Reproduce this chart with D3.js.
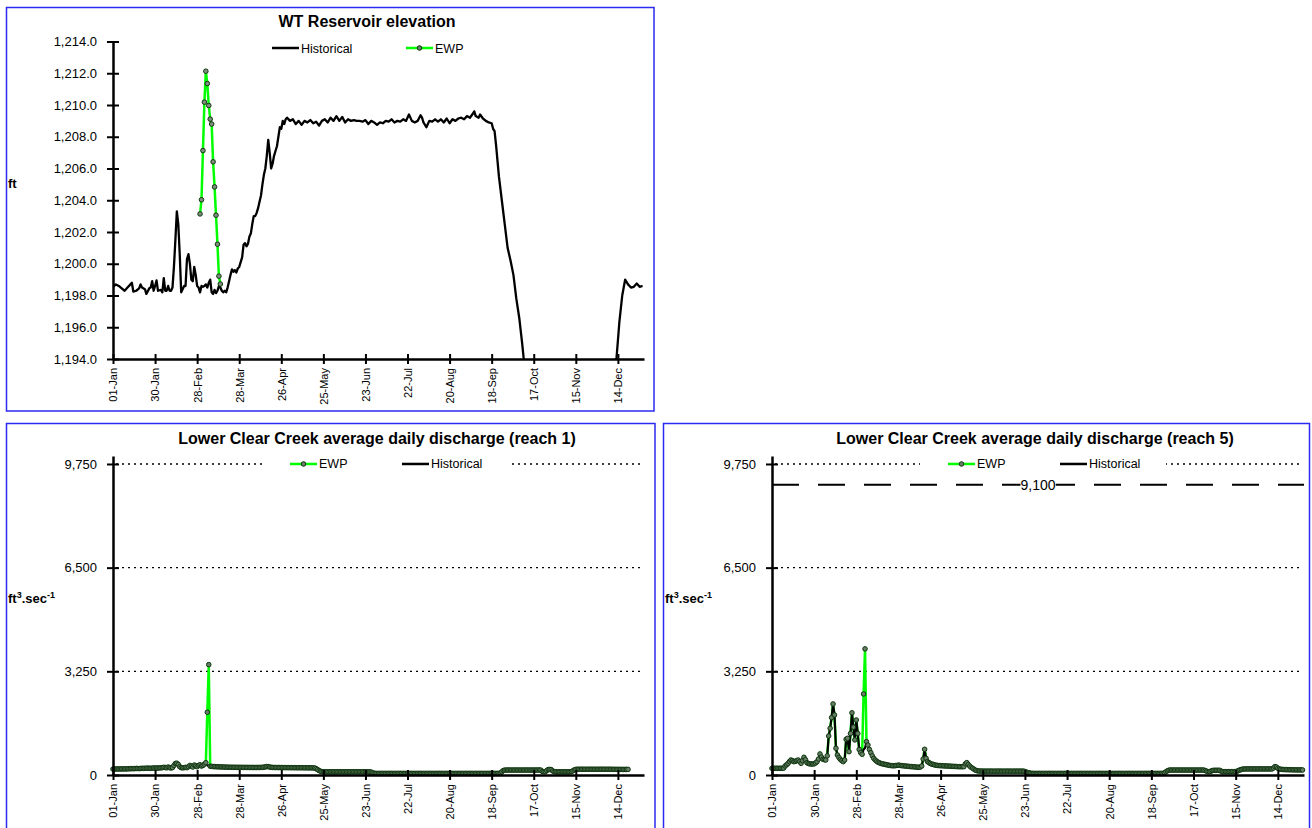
<!DOCTYPE html>
<html><head><meta charset="utf-8">
<script src="https://cdn.jsdelivr.net/npm/d3@7"></script>
<style>body{margin:0;background:#fff;} svg text{font-family:"Liberation Sans",Arial,sans-serif;}</style>
</head><body><svg id="c" width="1312" height="828"></svg>
<script>
// ---------------- DATA ----------------
const tickLabels = ["01-Jan","30-Jan","28-Feb","28-Mar","26-Apr","25-May","23-Jun","22-Jul","20-Aug","18-Sep","17-Oct","15-Nov","14-Dec"];
const tickDays = [0,29,58,87,116,145,174,203,232,261,290,319,348];
const elevTicks = [1194,1196,1198,1200,1202,1204,1206,1208,1210,1212,1214];
const flowTicks = [0,3250,6500,9750];

// WT reservoir elevation, historical [day, ft]
const historicalElevation = [[0,1198.55],[2,1198.7],[4,1198.6],[6,1198.45],[8,1198.3],[10,1198.5],[12,1198.7],[13,1198.8],[14,1198.25],[16,1198.3],[18,1198.45],[19,1198.7],[20,1198.5],[22,1198.4],[23,1198.1],[25,1198.45],[26,1198.5],[27,1198.9],[28,1198.3],[29,1198.6],[30,1198.95],[31,1198.3],[33,1198.35],[34,1198.2],[35,1199.1],[36,1198.3],[37,1198.3],[38,1198.6],[39,1198.3],[40,1198.3],[41,1198.5],[42,1199.8],[43,1201.5],[44,1203.3],[45,1202.5],[46,1200.6],[47,1198.2],[48,1198.4],[49,1198.6],[50,1198.6],[51,1200.3],[52,1200.6],[53,1200.0],[54,1199.0],[55,1198.9],[56,1199.8],[57,1199.3],[58,1198.6],[59,1198.5],[60,1198.2],[61,1198.6],[62,1198.55],[63,1198.6],[64,1198.7],[65,1198.5],[66,1198.8],[67,1199.0],[68,1198.2],[69,1198.1],[70,1198.35],[71,1198.15],[72,1198.3],[73,1198.6],[74,1198.5],[75,1198.3],[76,1198.2],[77,1198.3],[78,1198.2],[79,1198.5],[80,1198.9],[81,1199.3],[82,1199.65],[83,1199.5],[84,1199.6],[85,1199.45],[86,1199.7],[87,1199.8],[88,1200.1],[89,1200.4],[90,1201.2],[91,1201.3],[92,1201.1],[93,1201.25],[94,1201.7],[95,1201.9],[96,1202.5],[97,1203.0],[98,1203.0],[99,1203.2],[100,1203.5],[101,1203.9],[102,1204.3],[103,1205.0],[104,1205.6],[105,1206.0],[106,1206.8],[107,1207.8],[108,1207.0],[109,1206.0],[110,1206.3],[111,1206.8],[112,1207.1],[113,1207.4],[114,1208.0],[115,1208.6],[116,1208.5],[117,1209.0],[118,1208.8],[119,1209.1],[120,1209.2],[122,1209.0],[124,1209.1],[126,1208.8],[128,1209.0],[130,1208.75],[132,1209.0],[134,1208.9],[136,1209.05],[138,1208.85],[140,1208.95],[142,1208.7],[144,1209.0],[146,1209.1],[148,1208.9],[150,1209.2],[152,1209.0],[154,1209.3],[156,1209.0],[158,1209.25],[160,1208.9],[162,1209.1],[164,1209.0],[166,1209.05],[168,1209.0],[170,1209.0],[172,1208.95],[174,1209.05],[176,1208.8],[178,1209.0],[180,1208.9],[182,1208.75],[184,1208.9],[186,1208.85],[188,1209.0],[190,1208.95],[192,1209.1],[194,1208.9],[196,1209.0],[198,1208.95],[200,1209.1],[202,1209.0],[204,1209.4],[206,1209.0],[208,1208.9],[210,1209.0],[212,1209.35],[213,1209.2],[214,1208.9],[216,1208.6],[218,1209.0],[220,1208.95],[222,1209.1],[224,1208.95],[226,1209.1],[228,1208.9],[230,1209.15],[232,1208.85],[234,1209.1],[236,1209.0],[238,1209.15],[240,1209.2],[242,1209.1],[244,1209.3],[246,1209.2],[248,1209.45],[249,1209.6],[250,1209.3],[252,1209.2],[253,1209.4],[255,1209.15],[257,1209.0],[259,1208.9],[261,1208.85],[262,1208.5],[263,1208.35],[264,1207.5],[266,1205.5],[268,1204.0],[270,1202.5],[272,1201.0],[274,1200.2],[276,1199.3],[278,1197.8],[280,1196.6],[282,1195.0],[283,1194.1],[285,1193.0],[290,1191.5],[300,1190.5],[320,1190.0],[340,1191.0],[345,1192.8],[347,1194.0],[349,1196.3],[351,1198.0],[353,1199.0],[355,1198.7],[357,1198.5],[359,1198.55],[361,1198.75],[363,1198.55],[365,1198.6]];

// WT reservoir elevation, EWP [day, ft]
const ewpElevation = [[60,1203.14],[61,1204.03],[62,1207.13],[63,1210.18],[64,1212.13],[65,1211.35],[66,1209.97],[67,1209.11],[68,1208.8],[69,1206.42],[70,1204.84],[71,1203.06],[72,1201.23],[73,1199.22],[74,1198.72]];

// Lower Clear Creek reach 1, historical daily discharge (ft3/s), day 0..365
const reach1Historical = [
185,185,188,190,190,188,190,192,190,190, 195,195,198,200,198,200,205,205,200,205,
210,208,210,212,215,212,210,215,218,220, 220,218,222,225,230,240,235,225,250,230,
220,235,300,360,370,330,260,230,225,230, 240,230,260,300,280,250,310,290,260,300,
320,280,300,340,330,300,290,275,270,265, 262,260,258,255,255,252,250,248,246,245,
244,243,242,242,241,240,240,240,239,239, 238,238,238,237,237,236,236,236,235,236,
236,237,238,240,245,255,265,262,250,240, 238,236,235,235,234,234,233,233,232,232,
231,231,230,230,230,229,229,228,228,228, 227,227,226,226,225,225,225,224,222,220,
200,170,140,118,105,102,100,100,100,100, 100,99,100,98,99,100,101,100,99,100,
100,99,98,100,100,99,100,101,100,100, 99,100,100,99,100,100,98,99,90,70,
55,50,50,49,50,51,50,50,49,50, 50,51,50,50,49,50,50,50,51,50,
49,50,50,50,51,50,50,49,50,50, 50,50,51,50,49,50,50,50,50,51,
50,49,50,50,50,51,50,50,49,50, 50,50,51,50,50,49,50,50,50,51,
50,50,49,50,50,50,51,50,50,49, 50,50,50,51,50,50,49,50,50,50,
51,50,50,49,50,50,50,60,100,140, 152,155,155,156,155,154,155,155,156,155,
155,154,155,155,155,156,155,155,154,155, 155,156,155,155,160,150,110,105,105,140,
170,175,170,130,105,100,100,100,100,100, 100,100,100,100,100,100,110,130,160,175,
180,180,180,181,180,180,179,180,180,180, 181,180,180,179,180,180,180,181,180,180,
179,180,180,180,178,178,177,177,176,176, 176,175,175,175,175,175];
const reach1EwpChanges = [[64,386],[65,1967],[66,3460]];

// Lower Clear Creek reach 5, historical daily discharge (ft3/s), day 0..365
const reach5Historical = [
210,210,210,212,210,210,212,210,215,282, 320,360,420,470,450,418,430,450,470,420,
366,450,555,480,387,360,350,345,345,350, 380,418,500,659,560,492,480,470,600,1223,
1464,1800,2227,1882,837,627,550,492,450,418, 470,1119,1150,731,1300,1950,1500,1100,1725,1300,
800,700,650,800,850,1045,940,800,700,600, 520,470,430,400,380,360,350,340,330,320,
310,300,295,290,290,295,300,310,300,295, 290,285,280,275,270,265,262,258,255,250,
245,240,250,282,500,806,523,420,387,360, 340,330,314,305,300,295,292,290,288,285,
282,280,278,275,272,270,268,265,262,261, 260,260,262,350,388,330,280,240,210,180,
150,135,126,124,122,122,120,120,120,120, 121,120,120,119,120,120,121,120,120,119,
120,120,121,120,120,119,120,120,120,120, 120,121,120,120,110,90,75,65,55,52,
50,50,49,50,51,50,50,49,50,50, 50,51,50,50,49,50,50,50,51,50,
49,50,50,50,51,50,50,49,50,50, 50,50,51,50,49,50,50,50,50,51,
50,49,50,50,50,51,50,50,49,50, 50,50,51,50,50,49,50,50,50,51,
50,50,49,50,50,50,51,50,50,49, 50,50,50,51,50,50,49,50,50,50,
51,50,50,49,50,50,50,50,50,50, 70,100,130,150,157,155,155,156,155,154,
155,155,156,155,155,154,155,155,155,156, 155,155,154,155,155,155,156,155,140,120,
105,105,120,140,147,147,147,147,147,120, 105,105,105,105,105,105,105,105,105,105,
120,140,160,175,185,189,190,190,190,191, 190,190,189,190,190,190,191,190,190,189,
190,190,190,191,190,220,262,250,210,190, 180,175,172,170,168,168,165,165,163,162,
162,160,160,160,160,158];
const reach5EwpChanges = [[63,2541],[64,3953]];
const floodLevel = 9100;

// ---------------- DRAWING ----------------
const svg = d3.select('#c');
const FONT = '"Liberation Sans",Arial,sans-serif';
const BLUE = '#2a2af0';
const GREEN = '#00ff00';
const MK_FILL = '#667d66', MK_STROKE = '#0e360e';

function panelBox(x,y,w,h){
  svg.append('rect').attr('x',x).attr('y',y).attr('width',w).attr('height',h)
    .attr('fill','none').attr('stroke',BLUE).attr('stroke-width',1.5);
}
panelBox(6.5,7.5,647.5,403.5);
panelBox(6.5,423.5,648.5,420);
panelBox(663.5,423.5,646,420);

function drawAxes(g, x, y, yVals, yFmt){
  const x0 = x.range()[0], y0 = y.range()[0];
  const ya = g.append('g').attr('transform',`translate(${x0},0)`)
    .call(d3.axisLeft(y).tickValues(yVals).tickFormat(yFmt).tickSizeOuter(0).tickSizeInner(6).tickPadding(10));
  ya.selectAll('.tick line').attr('x1',6).attr('x2',-6).attr('stroke-width',2);
  ya.select('.domain').attr('stroke-width',2.5);
  ya.selectAll('text').attr('font-size',13).attr('font-family',FONT).attr('fill','#000');
  const xa = g.append('g').attr('transform',`translate(0,${y0})`)
    .call(d3.axisBottom(x).tickValues(tickDays).tickFormat((d,i)=>tickLabels[i]).tickSizeOuter(0).tickSizeInner(5));
  xa.selectAll('.tick line').attr('y1',-5).attr('y2',5).attr('stroke-width',2);
  xa.select('.domain').attr('stroke-width',2.5);
  xa.selectAll('text').attr('font-size',11).attr('font-family',FONT).attr('fill','#000')
    .attr('transform','rotate(-90)').attr('text-anchor','end').attr('x',-9).attr('y',0).attr('dy','0.35em');
}

function legendItem(g, x, y, label, kind){
  if(kind==='ewp'){
    g.append('line').attr('x1',x).attr('x2',x+27).attr('y1',y).attr('y2',y).attr('stroke',GREEN).attr('stroke-width',2.5);
    g.append('circle').attr('cx',x+13.5).attr('cy',y).attr('r',2.3).attr('fill',MK_FILL).attr('stroke',MK_STROKE).attr('stroke-width',1);
  } else {
    g.append('line').attr('x1',x).attr('x2',x+27).attr('y1',y).attr('y2',y).attr('stroke','#000').attr('stroke-width',2.5);
  }
  g.append('text').attr('x',x+29).attr('y',y).attr('dy','0.36em').attr('font-size',12.5).attr('font-family',FONT).text(label);
}

// ---------- Chart 1: WT Reservoir elevation ----------
{
  const g = svg.append('g');
  const x = d3.scaleLinear().domain([0,366]).range([113,644]);
  const y = d3.scaleLinear().domain([1194,1214]).range([359,41.5]);
  svg.append('clipPath').attr('id','clip1').append('rect').attr('x',113).attr('y',41.5).attr('width',531).attr('height',317.5);
  g.append('text').attr('x',367).attr('y',27).attr('text-anchor','middle').attr('font-weight','bold').attr('font-size',16).text('WT Reservoir elevation');
  g.append('text').attr('x',8).attr('y',188).attr('font-weight','bold').attr('font-size',13).text('ft');
  const line = d3.line().x(d=>x(d[0])).y(d=>y(d[1]));
  g.append('path').datum(historicalElevation).attr('clip-path','url(#clip1)').attr('d',line)
    .attr('fill','none').attr('stroke','#000').attr('stroke-width',2.3).attr('stroke-linejoin','round');
  g.append('path').datum(ewpElevation).attr('d',line).attr('fill','none').attr('stroke',GREEN).attr('stroke-width',2.5);
  g.selectAll('circle.m').data(ewpElevation).enter().append('circle').attr('class','m')
    .attr('cx',d=>x(d[0])).attr('cy',d=>y(d[1])).attr('r',2.3).attr('fill','#7e8e7e').attr('stroke',MK_STROKE).attr('stroke-width',1);
  drawAxes(g, x, y, elevTicks, d3.format(',.1f'));
  const lg = svg.append('g');
  legendItem(lg, 272, 48, 'Historical', 'hist');
  legendItem(lg, 406, 48, 'EWP', 'ewp');
}

// ---------- Discharge charts ----------
function dischargeChart(opts){
  const g = svg.append('g');
  const x = d3.scaleLinear().domain([0,366]).range([opts.x0, opts.x1]);
  const y = d3.scaleLinear().domain([0,10000]).range([775,456]);
  g.append('text').attr('x',opts.titleX).attr('y',444).attr('text-anchor','middle').attr('font-weight','bold').attr('font-size',16).text(opts.title);
  const yl = g.append('text').attr('x',opts.labelX).attr('y',603).attr('font-weight','bold').attr('font-size',13);
  yl.append('tspan').text('ft');
  yl.append('tspan').attr('font-size',9).attr('dy',-5).text('3');
  yl.append('tspan').attr('dy',5).text('.sec');
  yl.append('tspan').attr('font-size',9).attr('dy',-5).text('-1');
  g.selectAll('line.grid').data(flowTicks.filter(v=>v>0)).enter().append('line').attr('class','grid')
    .attr('x1',opts.x0+3).attr('x2',opts.gridEnd).attr('y1',d=>y(d)).attr('y2',d=>y(d))
    .attr('stroke','#000').attr('stroke-width',1.3).attr('stroke-dasharray','2,4');
  if(opts.flood){
    g.append('line').attr('x1',opts.x0).attr('x2',opts.x1).attr('y1',y(floodLevel)).attr('y2',y(floodLevel))
      .attr('stroke','#000').attr('stroke-width',2).attr('stroke-dasharray','27,19');
    const t = g.append('text').attr('x',opts.floodLabelX).attr('y',y(floodLevel)).attr('dy','0.36em')
      .attr('text-anchor','middle').attr('font-size',14).text(d3.format(',')(floodLevel));
    const bb = t.node().getBBox();
    g.insert('rect', () => t.node()).attr('x',bb.x).attr('y',bb.y).attr('width',bb.width).attr('height',bb.height).attr('fill','#fff');
  }
  const hist = opts.hist.map((v,i)=>[i,v]);
  const ewpMap = new Map(opts.changes);
  const ewp = opts.hist.map((v,i)=>[i, ewpMap.has(i)?ewpMap.get(i):v]);
  const line = d3.line().x(d=>x(d[0])).y(d=>y(d[1]));
  g.append('path').datum(ewp).attr('d',line).attr('fill','none').attr('stroke',GREEN).attr('stroke-width',2.5);
  g.append('path').datum(hist).attr('d',line).attr('fill','none').attr('stroke','#000').attr('stroke-width',2.2).attr('stroke-linejoin','round');
  g.selectAll('circle.m').data(ewp).enter().append('circle').attr('class','m')
    .attr('cx',d=>x(d[0])).attr('cy',d=>y(d[1])).attr('r',2.3).attr('fill',MK_FILL).attr('stroke',MK_STROKE).attr('stroke-width',1);
  drawAxes(g, x, y, flowTicks, d3.format(','));
  const lg = svg.append('g');
  lg.append('rect').attr('x',opts.legX).attr('y',y(9750)-8).attr('width',246).attr('height',16).attr('fill','#fff');
  legendItem(lg, opts.legX+28, y(9750), 'EWP', 'ewp');
  legendItem(lg, opts.legX+140, y(9750), 'Historical', 'hist');
}

dischargeChart({x0:113, x1:644, gridEnd:643, titleX:377, labelX:8, legX:262,
  title:'Lower Clear Creek average daily discharge (reach 1)', hist:reach1Historical, changes:reach1EwpChanges, flood:false});
dischargeChart({x0:772, x1:1304, gridEnd:1300, titleX:1035, labelX:665, legX:920, floodLabelX:1038,
  title:'Lower Clear Creek average daily discharge (reach 5)', hist:reach5Historical, changes:reach5EwpChanges, flood:true});
</script></body></html>
